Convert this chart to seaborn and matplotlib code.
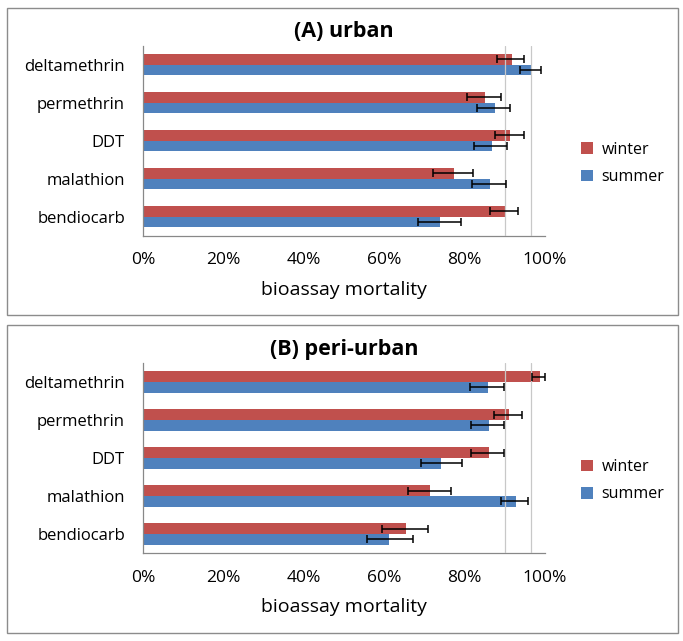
import numpy as np
import pandas as pd
import matplotlib
matplotlib.use("Agg")
import matplotlib.pyplot as plt
import seaborn as sns
from matplotlib.patches import Rectangle
from matplotlib.ticker import FixedLocator, FuncFormatter

insecticides = ["deltamethrin", "permethrin", "DDT", "malathion", "bendiocarb"]
seasons = ["winter", "summer"]
season_colors = {"winter": "#C0504D", "summer": "#4F81BD"}

# panel A: urban (mortality %, lower/upper CI)
urban_winter = [91.7, 85.0, 91.4, 77.4, 90.0]
urban_winter_lo = [88.1, 80.5, 87.6, 72.2, 86.3]
urban_winter_hi = [94.7, 89.1, 94.8, 82.1, 93.3]
urban_summer = [96.7, 87.5, 86.9, 86.4, 73.9]
urban_summer_lo = [93.9, 83.0, 82.4, 81.9, 68.4]
urban_summer_hi = [99.0, 91.2, 90.5, 90.2, 79.0]

# panel B: peri-urban
peri_winter = [98.8, 91.0, 86.1, 71.4, 65.4]
peri_winter_lo = [96.8, 87.3, 81.5, 65.9, 59.5]
peri_winter_hi = [100.0, 94.4, 89.9, 76.5, 70.9]
peri_summer = [85.7, 86.1, 74.2, 92.8, 61.1]
peri_summer_lo = [81.3, 81.5, 69.1, 89.0, 55.7]
peri_summer_hi = [89.9, 89.9, 79.3, 95.7, 67.1]

threshold_lines = [90, 96.5]
x_ticks = [0, 20, 40, 60, 80, 100]

FONT = "Open Sans"


def make_frame(winter, w_lo, w_hi, summer, s_lo, s_hi):
    rows = []
    for i, name in enumerate(insecticides):
        rows.append({"insecticide": name, "season": "winter",
                     "mortality": winter[i], "lo": w_lo[i], "hi": w_hi[i]})
        rows.append({"insecticide": name, "season": "summer",
                     "mortality": summer[i], "lo": s_lo[i], "hi": s_hi[i]})
    return pd.DataFrame(rows)


def draw_panel(ax, df, title):
    sns.barplot(data=df, y="insecticide", x="mortality", hue="season",
                order=insecticides, hue_order=seasons, palette=season_colors,
                orient="h", width=0.56, gap=0, errorbar=None, ax=ax,
                saturation=1, linewidth=0)

    # error bars on top of each bar
    for container, season in zip(ax.containers, seasons):
        sub = df[df["season"] == season].set_index("insecticide").loc[insecticides]
        ys = [p.get_y() + p.get_height() / 2 for p in container.patches]
        vals = sub["mortality"].to_numpy()
        xerr = np.vstack([vals - sub["lo"].to_numpy(), sub["hi"].to_numpy() - vals])
        ax.errorbar(vals, ys, xerr=xerr, fmt="none", ecolor="black",
                    elinewidth=1.1, capsize=2.6, capthick=1.1, zorder=4)

    for v in threshold_lines:
        ax.axvline(v, color="#c8c8c8", linewidth=0.9, zorder=3)

    ax.set_xlim(0, 100)
    ax.set_ylim(len(insecticides) - 0.5, -0.5)
    ax.xaxis.set_major_locator(FixedLocator(x_ticks))
    ax.xaxis.set_major_formatter(FuncFormatter(lambda v, _: f"{v:.0f}%"))
    ax.yaxis.set_minor_locator(FixedLocator(np.arange(-0.5, len(insecticides), 1.0)))
    ax.tick_params(axis="y", which="major", length=0, pad=13, labelsize=12,
                   labelcolor="black")
    ax.tick_params(axis="y", which="minor", length=4, color="#888888", direction="out")
    ax.tick_params(axis="x", length=4, color="#888888", pad=8, labelsize=12.5,
                   labelcolor="black")
    for lab in ax.get_xticklabels() + ax.get_yticklabels():
        lab.set_fontfamily(FONT)

    for side in ["top", "right"]:
        ax.spines[side].set_visible(False)
    for side in ["left", "bottom"]:
        ax.spines[side].set_color("#888888")
        ax.spines[side].set_linewidth(0.9)

    ax.set_ylabel("")
    ax.set_xlabel("bioassay mortality", fontsize=14, fontfamily=FONT,
                  labelpad=9, color="black")
    ax.set_title(title, fontsize=15.5, fontweight="bold", fontfamily=FONT,
                 pad=6, color="black")
    ax.grid(False)

    handles, labels = ax.get_legend_handles_labels()
    leg = ax.legend(handles, labels, loc="center left", bbox_to_anchor=(1.055, 0.38),
                    frameon=False, handlelength=0.75, handleheight=0.75,
                    handletextpad=0.5, labelspacing=0.7,
                    prop={"family": FONT, "size": 11.5})
    for t in leg.get_texts():
        t.set_color("black")


sns.set_style("white")
plt.rcParams["font.family"] = [FONT, "DejaVu Sans"]

fig = plt.figure(figsize=(6.83, 6.41), dpi=100)
W, H = 683, 641

# panel frames
for top, bottom in [(8, 315), (325, 633)]:
    fig.patches.append(Rectangle((7 / W, 1 - bottom / H), (678 - 7) / W,
                                 (bottom - top) / H, transform=fig.transFigure,
                                 fill=False, edgecolor="#8c8c8c", linewidth=1.0))

ax_a = fig.add_axes([143 / W, 1 - 235.5 / H, (545 - 143) / W, (235.5 - 45.7) / H])
ax_b = fig.add_axes([143 / W, 1 - 553 / H, (545 - 143) / W, (553 - 363) / H])

df_urban = make_frame(urban_winter, urban_winter_lo, urban_winter_hi,
                      urban_summer, urban_summer_lo, urban_summer_hi)
df_peri = make_frame(peri_winter, peri_winter_lo, peri_winter_hi,
                     peri_summer, peri_summer_lo, peri_summer_hi)

draw_panel(ax_a, df_urban, "(A) urban")
draw_panel(ax_b, df_peri, "(B) peri-urban")

fig.savefig("out.png", dpi=100)
